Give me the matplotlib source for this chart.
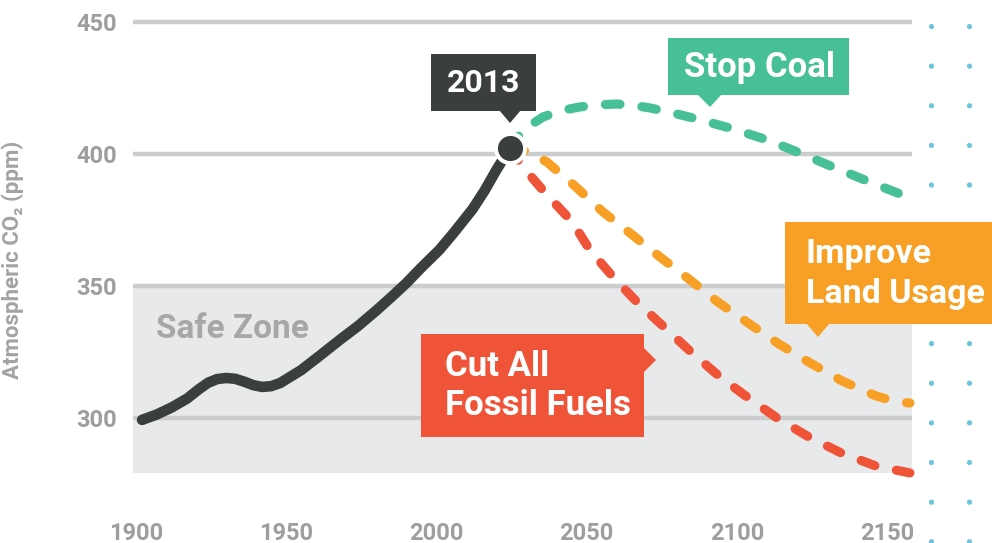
import matplotlib.pyplot as plt
from matplotlib.patches import Polygon

# historical CO2 (ppm) up to the "2013" marker
hist_year = [1902, 1907, 1912, 1917, 1921, 1924, 1927, 1930, 1933, 1936, 1939,
             1942, 1945, 1948, 1951, 1955, 1961, 1968, 1974, 1980, 1985, 1990,
             1995, 2001, 2006, 2012, 2016, 2020, 2024.5]
hist_ppm = [299.1, 301.2, 303.9, 307.2, 310.8, 313.2, 314.6, 315.0, 314.7, 313.6,
            312.3, 311.6, 311.9, 313.1, 315.2, 318.0, 323.3, 329.6, 334.8, 340.6,
            345.7, 351.0, 356.9, 363.6, 370.4, 379.0, 386.0, 394.0, 402.2]

# scenarios
coal_year = [2024.5, 2028.8, 2035.5, 2041.5, 2047.8, 2054.0, 2060.1, 2066.0, 2071.1,
             2078.0, 2085.4, 2097.7, 2110.1, 2121.0, 2132.0, 2144.3, 2157.6]
coal_ppm = [402.2, 409.0, 414.0, 416.4, 417.8, 418.6, 418.9, 418.3, 417.4,
            415.7, 413.6, 409.8, 405.3, 400.3, 395.0, 389.3, 383.3]

land_year = [2024.5, 2030.0, 2036.8, 2046.1, 2055.5, 2064.4, 2074.4, 2084.4, 2093.7,
             2103.7, 2114.0, 2124.4, 2135.0, 2146.3, 2153.0, 2157.6]
land_ppm = [402.2, 401.0, 396.9, 387.8, 377.9, 370.0, 360.9, 352.2, 343.8,
            335.9, 327.9, 320.7, 313.9, 308.2, 306.0, 305.5]

fossil_year = [2024.5, 2028.8, 2036.2, 2045.2, 2051.1, 2058.8, 2067.1, 2076.1, 2085.1,
               2094.4, 2103.4, 2113.4, 2124.0, 2134.7, 2146.3, 2157.6]
fossil_ppm = [402.2, 395.0, 385.2, 374.2, 363.5, 353.3, 343.4, 334.0, 324.5,
              315.4, 307.8, 299.8, 292.6, 286.6, 281.6, 279.0]

x_ticks = [1900, 1950, 2000, 2050, 2100, 2150]
y_ticks = [300, 350, 400, 450]
safe_top = 350

DARK = '#3B3E3F'
GREEN = '#47C096'
ORANGE = '#F7A025'
RED = '#F05438'
TEAL = '#6CC5DC'
GRID = '#CBCCCE'
ZONE = '#E8E9EB'
LABEL = '#9E9E9F'

plt.rcParams['font.family'] = ['Roboto', 'DejaVu Sans']
plt.rcParams['font.weight'] = 'bold'

W, H = 992, 543
fig = plt.figure(figsize=(W / 100, H / 100), dpi=100)
ax = fig.add_axes([133 / W, 1 - 473 / H, (912 - 133) / W, (473 - 22) / H])
x0, x1 = 1899.0, 2158.3
y0, y1 = 278.97, 450
ax.set_xlim(x0, x1)
ax.set_ylim(y0, y1)
for s in ax.spines.values():
    s.set_visible(False)

ax.axhspan(y0, safe_top, color=ZONE, lw=0, zorder=0)
ax.hlines(y_ticks, x0, x1, color=GRID, lw=3.2, capstyle='butt', clip_on=False, zorder=1)

ax.plot(hist_year, hist_ppm, color=DARK, lw=7.6, solid_capstyle='round',
        solid_joinstyle='round', zorder=4)
dash = (0, (1.6, 2.4))
for xs, ys, c in [(coal_year, coal_ppm, GREEN), (land_year, land_ppm, ORANGE),
                  (fossil_year, fossil_ppm, RED)]:
    ax.plot(xs, ys, color=c, lw=6.6, ls=dash, dash_capstyle='round', zorder=3,
            clip_on=False)
ax.plot(hist_year[-1], hist_ppm[-1], 'o', ms=21, mfc=DARK, mec='white', mew=2.9,
        zorder=6)

# dotted boundary on the right
for xv in [2164.5, 2177.2]:
    ax.plot([xv, xv], [448.48, 252.0], color=TEAL, lw=3.8, ls=(0, (0.01, 7.5)),
            dash_capstyle='round', clip_on=False)

ax.set_xticks(x_ticks)
ax.set_yticks(y_ticks)
ax.tick_params(length=0, labelsize=17, labelcolor=LABEL)
ax.tick_params(axis='x', pad=35)
ax.tick_params(axis='y', pad=11.5)
for t in ax.get_xticklabels() + ax.get_yticklabels():
    t.set_fontweight('bold')

ax.set_ylabel('Atmospheric CO₂ (ppm)', fontsize=16, color='#A3A3A4', fontweight='bold')
ax.yaxis.set_label_coords((24 - 133) / 779, (473 - 260) / 451)

ax.text(0.03, (473 - 329) / 451, 'Safe Zone', transform=ax.transAxes, fontsize=24,
        color='#A6A7A9', fontweight='bold', va='center', ha='left')


def P(x, y):
    return (x / W, 1 - y / H)


def callout(rect, tri, color):
    l, t, r, b = rect
    fig.add_artist(Polygon([P(l, t), P(r, t), P(r, b), P(l, b)], closed=True,
                           transform=fig.transFigure, color=color, lw=0))
    fig.add_artist(Polygon([P(*p) for p in tri], closed=True,
                           transform=fig.transFigure, color=color, lw=0))


callout((431, 54, 536, 111), [(499, 110), (521, 110), (510, 123)], DARK)
fig.text(*P(483.5, 83), '2013', color='white', fontsize=23, fontweight='bold',
         ha='center', va='center')

callout((668, 38, 849, 95), [(697, 94), (722, 94), (710, 107)], GREEN)
fig.text(*P(759, 67), 'Stop Coal', color='white', fontsize=25, fontweight='bold',
         ha='center', va='center')

callout((785, 222, 995, 324), [(806, 323), (830, 323), (818, 337)], ORANGE)
fig.text(*P(806, 274), 'Improve\nLand Usage', color='white', fontsize=24.5,
         fontweight='bold', ha='left', va='center', linespacing=1.3)

callout((421, 334, 644, 437), [(643, 347), (643, 373), (656, 360)], RED)
fig.text(*P(445, 386), 'Cut All\nFossil Fuels', color='white', fontsize=25,
         fontweight='bold', ha='left', va='center', linespacing=1.25)

fig.savefig('out.png', dpi=100)
